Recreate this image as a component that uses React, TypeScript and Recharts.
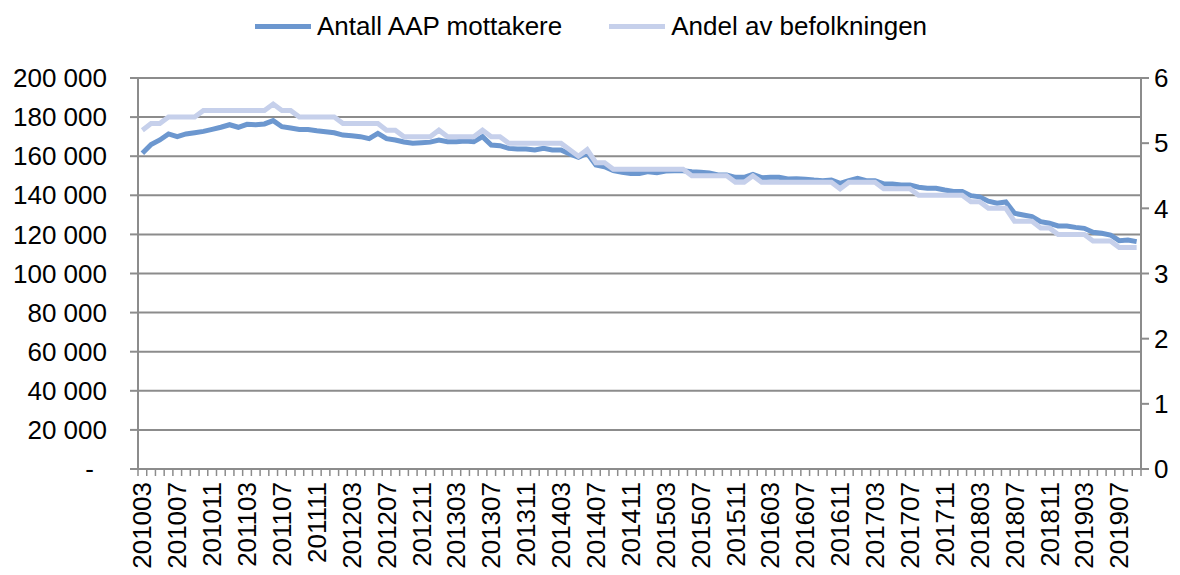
import { LineChart, Line, XAxis, YAxis, CartesianGrid } from 'recharts';

// first month in the series is March 2010
const START_YEAR = 2010;
const START_MONTH = 3;

const antallMottakere = [
  161500, 166000, 168300, 171400, 170000, 171400, 172000, 172700, 173700, 174800,
  176100, 174800, 176300, 176100, 176500, 178200, 175100, 174400, 173700, 173700,
  173000, 172500, 172000, 170800, 170500, 170000, 169000, 171700, 169000, 168300,
  167300, 166600, 166900, 167200, 168300, 167400, 167400, 167800, 167400, 170000,
  165700, 165400, 164000, 163700, 163700, 163200, 164000, 163200, 163200, 161100,
  159400, 161500, 155500, 154600, 152600, 151800, 151200, 151200, 152100, 151600,
  152400, 152600, 152600, 152100, 151800, 151400, 150400, 150400, 149200, 149200,
  150700, 149000, 149200, 149200, 148300, 148500, 148200, 147800, 147500, 147800,
  146100, 147500, 148700, 147500, 147500, 145800, 145800, 145300, 145300, 144100,
  143600, 143600, 142700, 142000, 142000, 139800, 139200, 137000, 136000, 136600,
  130800, 129900, 129100, 126500, 125700, 124300, 124300, 123600, 123100, 121100,
  120600, 119700, 116800, 117100, 116300,
];

const andelBefolkning = [
  5.2, 5.3, 5.3, 5.4, 5.4, 5.4, 5.4, 5.5, 5.5, 5.5,
  5.5, 5.5, 5.5, 5.5, 5.5, 5.6, 5.5, 5.5, 5.4, 5.4,
  5.4, 5.4, 5.4, 5.3, 5.3, 5.3, 5.3, 5.3, 5.2, 5.2,
  5.1, 5.1, 5.1, 5.1, 5.2, 5.1, 5.1, 5.1, 5.1, 5.2,
  5.1, 5.1, 5.0, 5.0, 5.0, 5.0, 5.0, 5.0, 5.0, 4.9,
  4.8, 4.9, 4.7, 4.7, 4.6, 4.6, 4.6, 4.6, 4.6, 4.6,
  4.6, 4.6, 4.6, 4.5, 4.5, 4.5, 4.5, 4.5, 4.4, 4.4,
  4.5, 4.4, 4.4, 4.4, 4.4, 4.4, 4.4, 4.4, 4.4, 4.4,
  4.3, 4.4, 4.4, 4.4, 4.4, 4.3, 4.3, 4.3, 4.3, 4.2,
  4.2, 4.2, 4.2, 4.2, 4.2, 4.1, 4.1, 4.0, 4.0, 4.0,
  3.8, 3.8, 3.8, 3.7, 3.7, 3.6, 3.6, 3.6, 3.6, 3.5,
  3.5, 3.5, 3.4, 3.4, 3.4,
];

const leftTicks = [0, 20000, 40000, 60000, 80000, 100000, 120000, 140000, 160000, 180000, 200000];
const rightTicks = [0, 1, 2, 3, 4, 5, 6];

const SERIES = [
  { key: 'antall', name: 'Antall AAP mottakere', color: '#6C97CF' },
  { key: 'andel', name: 'Andel av befolkningen', color: '#C6D0EB' },
];

const months = antallMottakere.map((_, i) => {
  const m = START_MONTH - 1 + i;
  return `${START_YEAR + Math.floor(m / 12)}${String((m % 12) + 1).padStart(2, '0')}`;
});

const data = months.map((month, i) => ({
  month,
  antall: antallMottakere[i],
  andel: andelBefolkning[i],
}));

const FONT = '"Liberation Sans", Arial, sans-serif';
const GRAY = '#8c8c8c';

const fmt = (v: number) => String(v).replace(/\B(?=(\d{3})+(?!\d))/g, ' ');

function CountTick({ x, y, payload }: any) {
  const zero = payload.value === 0;
  return (
    <text x={zero ? x - 13 : x} y={y} dy="0.35em" textAnchor="end" fontSize={26} fontFamily={FONT} fill="#000">
      {zero ? '-' : fmt(payload.value)}
    </text>
  );
}

function MonthTick({ x, y, payload, index, width, visibleTicksCount }: any) {
  const band = width && visibleTicksCount ? width / visibleTicksCount : payload.offset * 2;
  const left = x - band / 2;
  const last = index === visibleTicksCount - 1;
  return (
    <g>
      <line x1={left} x2={left} y1={y} y2={y + 7} stroke={GRAY} strokeWidth={1.5} />
      {last && <line x1={left + band} x2={left + band} y1={y} y2={y + 7} stroke={GRAY} strokeWidth={1.5} />}
      {index % 4 === 0 && (
        <text
          x={x}
          y={y + 13}
          dy="0.35em"
          transform={`rotate(-90, ${x}, ${y + 13})`}
          textAnchor="end"
          fontSize={26}
          fontFamily={FONT}
          fill="#000"
        >
          {payload.value}
        </text>
      )}
    </g>
  );
}

function LegendRow() {
  return (
    <div
      style={{
        position: 'absolute',
        top: 3,
        left: 247,
        height: 30,
        display: 'flex',
        alignItems: 'center',
        fontFamily: FONT,
        fontSize: 26,
        color: '#000',
        whiteSpace: 'nowrap',
      }}
    >
      {SERIES.map((s, i) => (
        <div key={s.key} style={{ display: 'flex', alignItems: 'center', marginLeft: i === 0 ? 0 : 47 }}>
          <span style={{ display: 'inline-block', width: 56, height: 5, background: s.color, marginRight: 6 }} />
          <span>{s.name}</span>
        </div>
      ))}
    </div>
  );
}

export default function App() {
  return (
    <div style={{ position: 'relative', width: 1164, height: 567 }}>
      <LineChart width={1164} height={567} data={data} margin={{ top: 70, right: 0, bottom: 0, left: 0 }}>
        <CartesianGrid vertical={false} stroke={GRAY} strokeWidth={2} />
        <XAxis
          dataKey="month"
          scale="band"
          interval={0}
          height={106}
          tickSize={0}
          tickMargin={0}
          tickLine={false}
          axisLine={{ stroke: GRAY, strokeWidth: 2 }}
          tick={<MonthTick />}
        />
        <YAxis
          domain={[0, 200000]}
          ticks={leftTicks}
          interval={0}
          width={130}
          tickSize={8}
          tickMargin={23}
          tickLine={{ stroke: GRAY, strokeWidth: 2 }}
          axisLine={{ stroke: GRAY, strokeWidth: 2 }}
          tick={<CountTick />}
        />
        <YAxis
          yAxisId="right"
          orientation="right"
          domain={[0, 6]}
          ticks={rightTicks}
          interval={0}
          width={31}
          tickSize={8}
          tickMargin={5}
          tickLine={{ stroke: GRAY, strokeWidth: 2 }}
          axisLine={{ stroke: GRAY, strokeWidth: 2 }}
          tick={{ fontSize: 26, fontFamily: FONT, fill: '#000' }}
        />
        <Line
          dataKey="antall"
          name={SERIES[0].name}
          stroke={SERIES[0].color}
          strokeWidth={5}
          dot={false}
          type="linear"
          isAnimationActive={false}
        />
        <Line
          yAxisId="right"
          dataKey="andel"
          name={SERIES[1].name}
          stroke={SERIES[1].color}
          strokeWidth={5}
          dot={false}
          type="linear"
          isAnimationActive={false}
        />
      </LineChart>
      <LegendRow />
    </div>
  );
}
